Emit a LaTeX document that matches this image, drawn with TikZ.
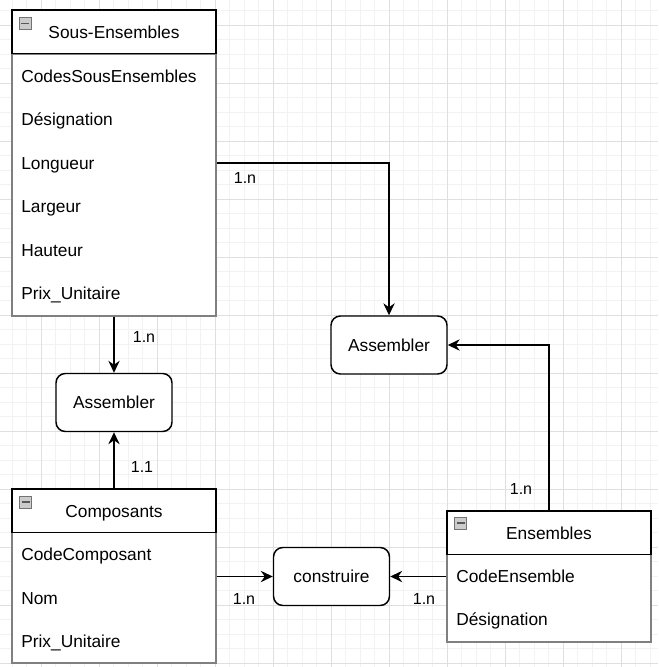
\documentclass[tikz,border=0pt]{standalone}
\usepackage{fontspec}
\setmainfont{Liberation Sans}
\usetikzlibrary{positioning}
\usetikzlibrary{arrows.meta}
\tikzset{
    gridminor/.style = {line width=0.75pt, draw=gray!10},
    gridmajor/.style = {line width=0.75pt, draw=gray!25},
    tablehead/.style = {rectangle, line width=1pt, draw=black, fill=white, minimum width=153pt, minimum height=32.5pt, text height=12.5pt, text depth=2.5pt, font=\fontsize{13}{15}\selectfont},
    tablebody/.style = {rectangle, line width=1pt, draw=gray, fill=white, minimum width=153pt},
    attr/.style = {anchor=west, inner sep=0pt, text height=12.5pt, text depth=2.5pt, font=\fontsize{13}{15}\selectfont},
    togglebox/.style = {rectangle, draw=gray!90!black, fill=gray!40, minimum size=9pt, inner sep=0pt,
        path picture={\draw[line width=1.4pt, black!65] ([xshift=1.5pt]path picture bounding box.west) -- ([xshift=-1.5pt]path picture bounding box.east);}},
    assoc/.style = {rectangle, rounded corners=7pt, line width=1.1pt, draw=black, fill=white, minimum width=87pt, minimum height=43.5pt, font=\fontsize{13}{15}\selectfont},
    card/.style = {inner sep=0pt, font=\fontsize{12}{14}\selectfont},
    edgen/.style = {-{Stealth[length=9pt, width=8.5pt, inset=3pt]}, line width=1.1pt},
}

\begin{document}
\begin{tikzpicture}[x=0.75pt, y=-0.75pt]
%
\useasboundingbox[fill=white] (0, 0) rectangle (658, 667);
\begin{scope}
\clip (0, 0) rectangle (658, 667);
\foreach \gx in {12.3,26.8,...,658} \draw[gridminor] (\gx, 0) -- (\gx, 667);
\foreach \gy in {10.8,25.3,...,667} \draw[gridminor] (0, \gy) -- (658, \gy);
\foreach \gx in {41.3,99.3,...,658} \draw[gridmajor] (\gx, 0) -- (\gx, 667);
\foreach \gy in {25.3,83.3,...,667} \draw[gridmajor] (0, \gy) -- (658, \gy);
\end{scope}
%
% Sous-Ensembles
\node[tablebody, minimum height=196.5pt] at (114, 185) (se-body) {};
\node[tablehead] at (114, 31.75) (se-head) {Sous-Ensembles};
\node[togglebox] at (25, 23.5) (se-icon) {};
\node[attr] at (21, 76) (se-code) {CodesSousEnsembles};
\node[attr] at (21, 119) (se-des) {Désignation};
\node[attr] at (21, 163) (se-long) {Longueur};
\node[attr] at (21, 206) (se-larg) {Largeur};
\node[attr] at (21, 250) (se-haut) {Hauteur};
\node[attr] at (21, 293) (se-prix) {Prix\_Unitaire};
%
% Composants
\node[tablebody, minimum height=98.25pt] at (114, 597.5) (co-body) {};
\node[tablehead] at (114, 510.5) (co-head) {Composants};
\node[togglebox] at (25.5, 502) (co-icon) {};
\node[attr] at (21, 554) (co-code) {CodeComposant};
\node[attr] at (21, 598) (co-nom) {Nom};
\node[attr] at (21, 641) (co-prix) {Prix\_Unitaire};
%
% Ensembles
\node[tablebody, minimum height=65.8pt] at (549, 598.2) (en-body) {};
\node[tablehead] at (549, 532.6) (en-head) {Ensembles};
\node[togglebox] at (460.5, 523.3) (en-icon) {};
\node[attr] at (456, 576) (en-code) {CodeEnsemble};
\node[attr] at (456, 619) (en-des) {Désignation};
%
% associations
\node[assoc] at (114, 402.5) (asmL) {Assembler};
\node[assoc] at (389, 345) (asmR) {Assembler};
\node[assoc] at (331.5, 576.5) (cons) {construire};
%
\draw[edgen] (se-body) -- (asmL);
\draw[edgen] (co-head) -- (asmL);
\draw[edgen] (se-body.east |- se-long) -| (asmR);
\draw[edgen] (en-head) |- (asmR);
\draw[edgen] (co-body.east |- cons) -- (cons);
\draw[edgen] (en-body.west |- cons) -- (cons);
%
\node[card] at (144, 337) (c-se-l) {1.n};
\node[card] at (142, 467) (c-co-l) {1.1};
\node[card] at (245, 178) (c-se-r) {1.n};
\node[card] at (521, 489) (c-en-r) {1.n};
\node[card] at (244, 599) (c-co-c) {1.n};
\node[card] at (424, 599) (c-en-c) {1.n};

\end{tikzpicture}
\end{document}
